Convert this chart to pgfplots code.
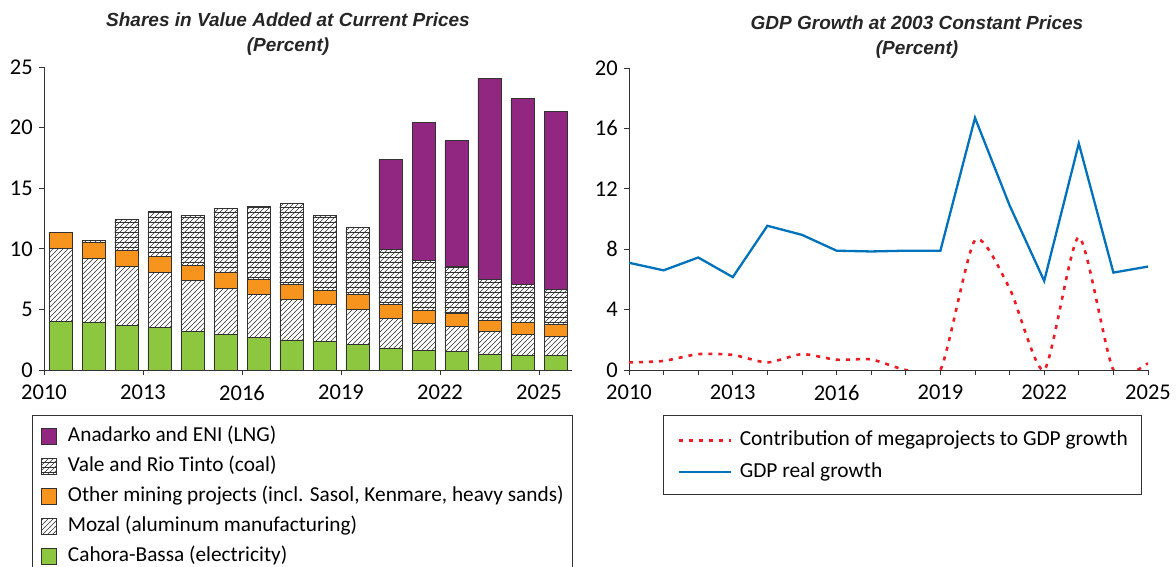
\documentclass[border=0pt]{standalone}
\usepackage{fontspec}
\setmainfont{Carlito}
\newfontfamily\titlefont{Liberation Sans}
\usepackage{pgfplots}
\usepackage{pgfplotstable}
\pgfplotsset{compat=1.18}
\usetikzlibrary{patterns}
\definecolor{lng}{RGB}{146,39,130}
\definecolor{oth}{RGB}{247,148,30}
\definecolor{cah}{RGB}{141,198,63}
\definecolor{gdpblue}{RGB}{0,114,188}
\definecolor{megared}{RGB}{237,28,36}
\definecolor{edge}{RGB}{50,50,50}
\pgfdeclarepatternformonly{mozalpat}{\pgfqpoint{-1pt}{-1pt}}{\pgfqpoint{6pt}{6pt}}{\pgfqpoint{5pt}{5pt}}{%
  \pgfsetlinewidth{0.5pt}%
  \pgfpathmoveto{\pgfqpoint{-0.1pt}{-0.1pt}}\pgfpathlineto{\pgfqpoint{5.1pt}{5.1pt}}\pgfusepath{stroke}}
\pgfdeclarepatternformonly{valepat}{\pgfqpoint{-1pt}{-1pt}}{\pgfqpoint{6pt}{6pt}}{\pgfqpoint{5pt}{5pt}}{%
  \pgfsetlinewidth{0.5pt}%
  \pgfpathmoveto{\pgfqpoint{-0.1pt}{-0.1pt}}\pgfpathlineto{\pgfqpoint{5.1pt}{5.1pt}}\pgfusepath{stroke}%
  \pgfpathmoveto{\pgfqpoint{-1pt}{0pt}}\pgfpathlineto{\pgfqpoint{6pt}{0pt}}\pgfusepath{stroke}}

\pgfplotstableread{
year green mozal other vale lng
2010 4.00 6.00 1.37 0.00 0.00
2011 3.95 5.24 1.32 0.17 0.00
2012 3.67 4.86 1.32 2.57 0.00
2013 3.48 4.55 1.32 3.70 0.00
2014 3.15 4.22 1.27 4.11 0.00
2015 2.90 3.83 1.30 5.30 0.00
2016 2.70 3.56 1.24 5.99 0.00
2017 2.48 3.31 1.25 6.70 0.00
2018 2.32 3.06 1.22 6.15 0.00
2019 2.12 2.85 1.24 5.52 0.00
2020 1.82 2.46 1.10 4.55 7.43
2021 1.63 2.21 1.04 4.14 11.43
2022 1.55 2.06 1.08 3.86 10.38
2023 1.32 1.85 0.94 3.40 16.58
2024 1.24 1.71 1.00 3.14 15.29
2025 1.19 1.57 0.99 2.93 14.65
}\bars

\pgfplotstableread{
year mega gdp
2010 0.50 7.10
2011 0.60 6.60
2012 1.05 7.45
2013 1.00 6.15
2014 0.50 9.55
2015 1.05 8.95
2016 0.68 7.90
2017 0.70 7.85
2018 0.00 7.90
2019 0.00 7.90
2020 8.60 16.70
2021 5.40 10.90
2022 0.00 5.90
2023 8.80 15.00
2024 0.00 6.45
2025 0.45 6.85
}\growth

\newcommand\tickfont{\fontsize{22.5}{22.5}\selectfont}

\begin{document}
\begin{tikzpicture}
\path[use as bounding box] (0pt,0pt) rectangle (1176pt,567pt);

\pgfplotsset{
  common/.style={
    scale only axis,
    axis lines=left,
    axis line style={-, line width=0.8pt, edge},
    tick style={line width=0.8pt, edge},
    tick align=outside,
    major tick length=5pt,
    xticklabel style={font=\tickfont, inner sep=0pt, yshift=-10pt},
    yticklabel style={font=\tickfont, inner sep=0pt, xshift=-6pt},
    /pgf/number format/assume math mode=true,
    /pgf/number format/1000 sep={},
  }
}

% Left chart
\begin{axis}[common,
  at={(44pt,197pt)}, anchor=south west,
  width=528pt, height=303pt,
  xmin=2010, xmax=2026, ymin=0, ymax=25,
  xtick={2010,2013,2016,2019,2022,2025},
  xticklabels={2010,2013,2016,2019,2022,2025},
  ytick={0,5,10,15,20,25},
  yticklabels={0,5,10,15,20,25},
  ybar stacked, bar width=23pt,
  every axis plot/.append style={draw=edge, line width=0.8pt},
  legend style={draw=none, fill=none, at={(-0.0057,-0.1848)}, anchor=north west,
    font=\fontsize{21.3}{21.3}\selectfont, row sep=10pt, column sep=11pt,
    nodes={inner sep=0pt, text height=15pt, text depth=5pt},
    legend cell align=left, inner sep=0pt},
  legend image code/.code={\draw[#1] (0pt,-8pt) rectangle (15pt,8pt);},
  reverse legend,
]
\addplot[fill=cah] table[x expr=\thisrow{year}+0.5, y=green] {\bars};
\addlegendentry{Cahora-Bassa (electricity)}
\addplot[pattern=mozalpat, pattern color=edge] table[x expr=\thisrow{year}+0.5, y=mozal] {\bars};
\addlegendentry{Mozal (aluminum manufacturing)}
\addplot[fill=oth] table[x expr=\thisrow{year}+0.5, y=other] {\bars};
\addlegendentry{Other mining projects (incl. Sasol, Kenmare, heavy sands)}
\addplot[pattern=valepat, pattern color=edge] table[x expr=\thisrow{year}+0.5, y=vale] {\bars};
\addlegendentry{Vale and Rio Tinto (coal)}
\addplot[fill=lng] table[x expr=\thisrow{year}+0.5, y=lng] {\bars};
\addlegendentry{Anadarko and ENI (LNG)}
\end{axis}

% Right chart
\begin{axis}[common,
  at={(629pt,197pt)}, anchor=south west,
  width=519pt, height=302pt,
  xmin=2010, xmax=2025, ymin=0, ymax=20,
  xtick={2010,2011,2012,2013,2014,2015,2016,2017,2018,2019,2020,2021,2022,2023,2024,2025},
  xticklabels={2010,,,2013,,,2016,,,2019,,,2022,,,2025},
  ytick={0,4,8,12,16,20},
  yticklabels={0,4,8,12,16,20},
  legend style={draw=none, fill=none, at={(0.0925,-0.1987)}, anchor=north west,
    font=\fontsize{21.4}{21.4}\selectfont, row sep=12pt, column sep=8pt,
    nodes={inner sep=0pt, text height=15pt, text depth=5pt},
    legend cell align=left, inner sep=0pt},
  legend image code/.code={\draw[#1] (0pt,0pt) -- (52pt,0pt);},
]
\addplot[megared, line width=2.6pt, dash pattern=on 4pt off 6pt, smooth, tension=0.4] table[x=year, y=mega] {\growth};
\addlegendentry{Contribution of megaprojects to GDP growth}
\addplot[gdpblue, line width=2.3pt] table[x=year, y=gdp] {\growth};
\addlegendentry{GDP real growth}
\end{axis}

% Titles
\tikzset{ttl/.style={font=\titlefont\bfseries\itshape\fontsize{19}{19}\selectfont, anchor=base, inner sep=0pt, text=black!85}}
\node[ttl] at (288pt,540pt) {Shares in Value Added at Current Prices};
\node[ttl] at (288pt,515pt) {(Percent)};
\node[ttl] at (917pt,537pt) {GDP Growth at 2003 Constant Prices};
\node[ttl] at (917pt,512pt) {(Percent)};

% Legend frames
\draw[edge, line width=0.8pt] (32pt,-10pt) rectangle (572pt,152pt);
\draw[edge, line width=0.8pt] (663pt,73pt) rectangle (1141pt,152pt);
\end{tikzpicture}
\end{document}
